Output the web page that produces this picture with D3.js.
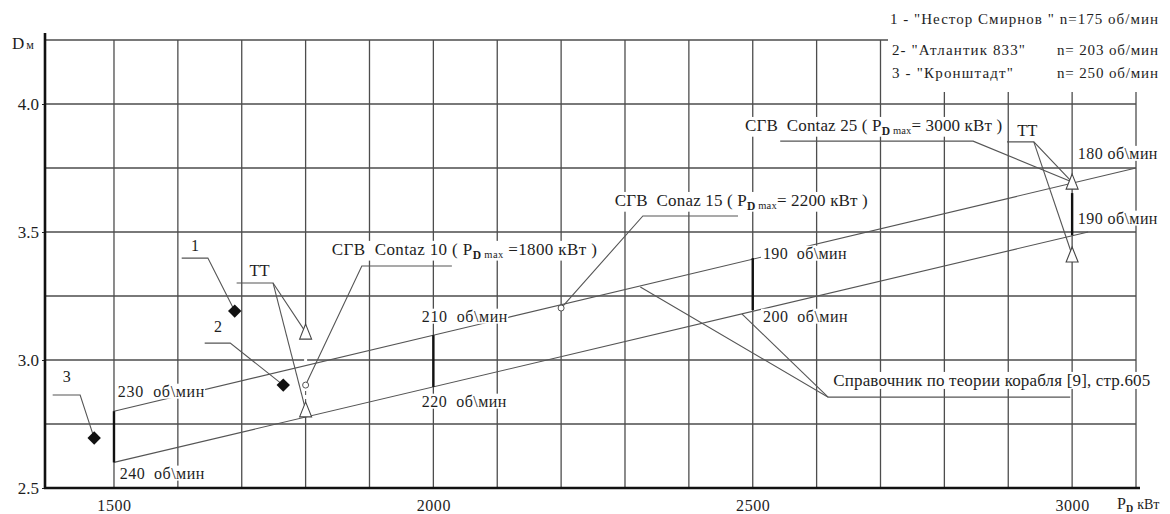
<!DOCTYPE html>
<html><head><meta charset="utf-8">
<script src="https://cdn.jsdelivr.net/npm/d3@7"></script>
<style>
body{margin:0;background:#fff}
svg{display:block}
svg text{font-family:"Liberation Serif","Times New Roman","DejaVu Serif",serif;fill:#1e1e1e;white-space:pre}
</style>
</head><body>
<svg id="c" width="1170" height="514"></svg>
<script>
// ---------- data ----------
const xTicks = [1500, 2000, 2500, 3000];
const yTicks = [2.5, 3.0, 3.5, 4.0];
const xGridValues = [1500,1600,1700,1800,1900,2000,2100,2200,2300,2400,2500,2600,2700,2800,2900,3000,3100];
const yGridValues = [2.75, 3.0, 3.25, 3.5, 3.75, 4.0, 4.25];
const upperLine = [[1500, 2.80], [3100, 3.75]];
const lowerLine = [[1500, 2.60], [3025, 3.50]];
const rpmSegments = [[1500, 2.60, 2.80], [2000, 2.895, 3.097], [2500, 3.195, 3.398], [3000, 3.488, 3.652]];
const rpmLabels = [
  ["230  об\\мин", 1506, 2.871], ["240  об\\мин", 1509, 2.551],
  ["210  об\\мин", 1982, 3.164], ["220  об\\мин", 1982, 2.832],
  ["190  об\\мин", 2516, 3.41],  ["200  об\\мин", 2516, 3.164],
  ["180 об\\мин", 3009, 3.80],  ["190 об\\мин", 3009, 3.547]
];
const shipIds = ["1", "2", "3"];
const shipP = [1689, 1765, 1469];
const shipD = [3.191, 2.902, 2.695];
const shipLabelP = [1627, 1663, 1426];
const shipLabelD = [3.441, 3.125, 2.930];
const shipElbowP = [[1606, 1647], [1642, 1682], [1404, 1447]];
const shipElbowD = [3.398, 3.066, 2.863];
const turbineP = [1800, 1800, 3000, 3000];
const turbineD = [3.109, 2.805, 3.695, 3.41];
const sgvP = [1800, 2200];
const sgvD = [2.902, 3.203];
const legendLeft = ['1 - "Нестор Смирнов " n=175 об/мин', '2- "Атлантик 833"', '3 - "Кронштадт"'];
const legendRight = ['', 'n= 203 об/мин', 'n= 250 об/мин'];
// annotations: text parts, text anchor (P,D), leader polyline(s) in data coords
const annotations = [
  {parts:[["СГВ  Contaz 10 ( P"],["D","b"],[" max","s"],[" =1800 кВт )"]], P:1841, D:3.426,
   leaders:[[[2029,3.367],[1888,3.367],[1800,2.902]]]},
  {parts:[["СГВ  Conaz 15 ( P"],["D","b"],[" max","s"],["= 2200 кВт )"]], P:2284, D:3.617,
   leaders:[[[2477,3.5625],[2328,3.5625],[2200,3.203]]]},
  {parts:[["СГВ  Contaz 25 ( P"],["D","b"],[" max","s"],["= 3000 кВт )"]], P:2488, D:3.910,
   leaders:[[[2543,3.855],[2845,3.855],[3000,3.695]]]},
  {parts:[["ТТ"]], P:1712, D:3.344,
   leaders:[[[1692,3.301],[1749,3.301],[1800,3.109]],[[1749,3.301],[1800,2.805]]]},
  {parts:[["ТТ"]], P:2914, D:3.891,
   leaders:[[[2898,3.852],[2940,3.852],[3000,3.695]],[[2940,3.852],[3000,3.41]]]},
  {parts:[["Справочник по теории корабля [9], стр.605"]], P:2626, D:2.914,
   leaders:[[[2997,2.855],[2618,2.855],[2324,3.285]],[[2618,2.855],[2483,3.180]]]}
];

// ---------- setup ----------
const FONT = '"Liberation Serif","Times New Roman","DejaVu Serif",serif';
const svg = d3.select("#c");
const x = d3.scaleLinear().domain([1392, 3100]).range([45, 1136]);
const y = d3.scaleLinear().domain([2.5, 4.25]).range([488, 40]);
const gridColor = "#4d4d4d";

// grid
const grid = svg.append("g");
grid.selectAll("line.v").data(xGridValues).join("line")
  .attr("x1", d => x(d)).attr("x2", d => x(d))
  .attr("y1", y(2.5)).attr("y2", y(4.25))
  .attr("stroke", gridColor).attr("stroke-width", 1.3);
grid.selectAll("line.h").data(yGridValues).join("line")
  .attr("x1", x(1392)).attr("x2", x(3100))
  .attr("y1", d => y(d)).attr("y2", d => y(d))
  .attr("stroke", gridColor).attr("stroke-width", 1.3);
// gap in the 1800 grid line between the turbine marks, dashed link circle -> lower triangle
grid.append("line").attr("x1", x(turbineP[0])).attr("x2", x(turbineP[0]))
  .attr("y1", y(turbineD[0]) + 6).attr("y2", y(turbineD[1]) - 6)
  .attr("stroke", "#fff").attr("stroke-width", 3);
grid.append("line").attr("x1", x(sgvP[0])).attr("x2", x(sgvP[0]))
  .attr("y1", y(sgvD[0]) + 6).attr("y2", y(turbineD[1]) - 8)
  .attr("stroke", "#555").attr("stroke-width", 1.1).attr("stroke-dasharray", "4,4");

// legend whiteout
svg.append("rect").attr("x", 888).attr("y", 0).attr("width", 282).attr("height", 92).attr("fill", "#fff");

// axes
const yAxis = svg.append("g").attr("transform", `translate(${x(1392)},0)`)
  .call(d3.axisLeft(y).tickValues(yTicks).tickSize(3).tickPadding(3).tickFormat(d3.format(".1f")));
yAxis.attr("font-family", FONT);
yAxis.select(".domain").remove();
yAxis.selectAll("text").attr("font-size", 17).attr("fill", "#1e1e1e");
yAxis.selectAll("line").attr("stroke", "#222");
const xAxis = svg.append("g").attr("transform", `translate(0,${y(2.5)})`)
  .call(d3.axisBottom(x).tickValues(xTicks).tickSize(0).tickPadding(12).tickFormat(d3.format("d")));
xAxis.attr("font-family", FONT);
xAxis.select(".domain").remove();
xAxis.selectAll("text").attr("font-size", 16).attr("fill", "#1e1e1e").attr("letter-spacing", 0.6);

svg.append("line").attr("x1", x(1392)).attr("x2", x(1392)).attr("y1", 33).attr("y2", y(2.5) + 1)
  .attr("stroke", "#111").attr("stroke-width", 2.6);
svg.append("line").attr("x1", x(1392) - 1).attr("x2", x(3100) + 4).attr("y1", y(2.5)).attr("y2", y(2.5))
  .attr("stroke", "#111").attr("stroke-width", 2.6);

// axis titles
const dt = svg.append("text").attr("x", 12).attr("y", 49).attr("font-size", 17).attr("font-family", FONT);
dt.append("tspan").text("D");
dt.append("tspan").attr("font-size", 12).attr("dx", 2).text("м");
const pt = svg.append("text").attr("x", 1117).attr("y", 509).attr("font-size", 16).attr("font-family", FONT);
pt.append("tspan").text("P");
pt.append("tspan").attr("font-size", 10).attr("font-weight", "bold").attr("dy", 3).text("D");
pt.append("tspan").attr("font-size", 14).attr("dy", -3).attr("dx", 4).text("кВт");

// theoretical lines
const line = d3.line().x(d => x(d[0])).y(d => y(d[1]));
svg.selectAll("path.theo").data([upperLine, lowerLine]).join("path")
  .attr("d", line).attr("fill", "none").attr("stroke", "#555").attr("stroke-width", 1.1);

// rpm segments
svg.selectAll("line.rpm").data(rpmSegments).join("line")
  .attr("x1", d => x(d[0])).attr("x2", d => x(d[0]))
  .attr("y1", d => y(d[1])).attr("y2", d => y(d[2]))
  .attr("stroke", "#111").attr("stroke-width", 2.4);

// leaders
const leaderG = svg.append("g");
annotations.forEach(a => a.leaders.forEach(l => {
  leaderG.append("path").attr("d", line(l)).attr("fill", "none").attr("stroke", "#555").attr("stroke-width", 1.1);
}));
shipIds.forEach((id, i) => {
  const pts = [[shipElbowP[i][0], shipElbowD[i]], [shipElbowP[i][1], shipElbowD[i]], [shipP[i], shipD[i]]];
  leaderG.append("path").attr("d", line(pts)).attr("fill", "none").attr("stroke", "#555").attr("stroke-width", 1.1);
});

// text helper: optional target width (spread via letter-spacing), optional white background
function richText(g, tx, ty, parts, size, target, bg) {
  const grp = g.append("g");
  const t = grp.append("text").attr("x", tx).attr("y", ty).attr("font-size", size)
    .attr("font-family", FONT).attr("dominant-baseline", "middle");
  let shifted = false, n = 0;
  parts.forEach(p => {
    const s = t.append("tspan").text(p[0]);
    n += p[0].length;
    if (p[1] === "b") { s.attr("font-size", size * 0.68).attr("font-weight", "bold").attr("dy", 5); shifted = true; }
    else if (p[1] === "s") { s.attr("font-size", size * 0.62); }
    else if (shifted) { s.attr("dy", -5); shifted = false; }
  });
  if (target) {
    const w = t.node().getBBox().width;
    const ls = (target - w) / Math.max(1, n - 1);
    if (ls > 0) t.attr("letter-spacing", ls);
  }
  if (bg) {
    const bb = t.node().getBBox();
    grp.insert("rect", "text").attr("x", bb.x - 2).attr("y", bb.y + 1)
      .attr("width", bb.width + 2).attr("height", bb.height - 2).attr("fill", "#fff");
  }
  return t;
}
const textG = svg.append("g");
const rpmWidths = [87, 85, 86, 85, 84, 85, 80, 80];
rpmLabels.forEach((r, i) => richText(textG, x(r[1]), y(r[2]), [[r[0]]], 16, rpmWidths[i], true));
const annWidths = [265, 253, 257, 20, 20, 317];
const annSizes = [17, 17, 17, 16.5, 16.5, 17];
annotations.forEach((a, i) => richText(textG, x(a.P), y(a.D), a.parts, annSizes[i], annWidths[i], true));
shipIds.forEach((id, i) => richText(textG, x(shipLabelP[i]) - 4, y(shipLabelD[i]), [[id]], 16, 0, true));

// legend
const legendLeftWidths = [268, 133, 121];
legendLeft.forEach((l, i) => {
  const ly = [21, 52, 75][i];
  richText(textG, i === 0 ? 890 : 892, ly, [[l]], 15, legendLeftWidths[i], false);
  if (legendRight[i]) richText(textG, 1057, ly, [[legendRight[i]]], 15, 101, false);
});

// markers
svg.selectAll("path.ship").data(shipP).join("path")
  .attr("transform", (d, i) => `translate(${x(d)},${y(shipD[i])}) rotate(45)`)
  .attr("d", d3.symbol(d3.symbolSquare, 90)).attr("fill", "#111");
svg.selectAll("path.tt").data(turbineP).join("path")
  .attr("transform", (d, i) => `translate(${x(d)},${y(turbineD[i])})`)
  .attr("d", "M0,-8 L6,7 L-6,7 Z")
  .attr("fill", "#fff").attr("stroke", "#444").attr("stroke-width", 1.1);
svg.selectAll("circle.sgv").data(sgvP).join("circle")
  .attr("cx", d => x(d)).attr("cy", (d, i) => y(sgvD[i])).attr("r", 3)
  .attr("fill", "#fff").attr("stroke", "#555").attr("stroke-width", 1);
</script>
</body></html>
